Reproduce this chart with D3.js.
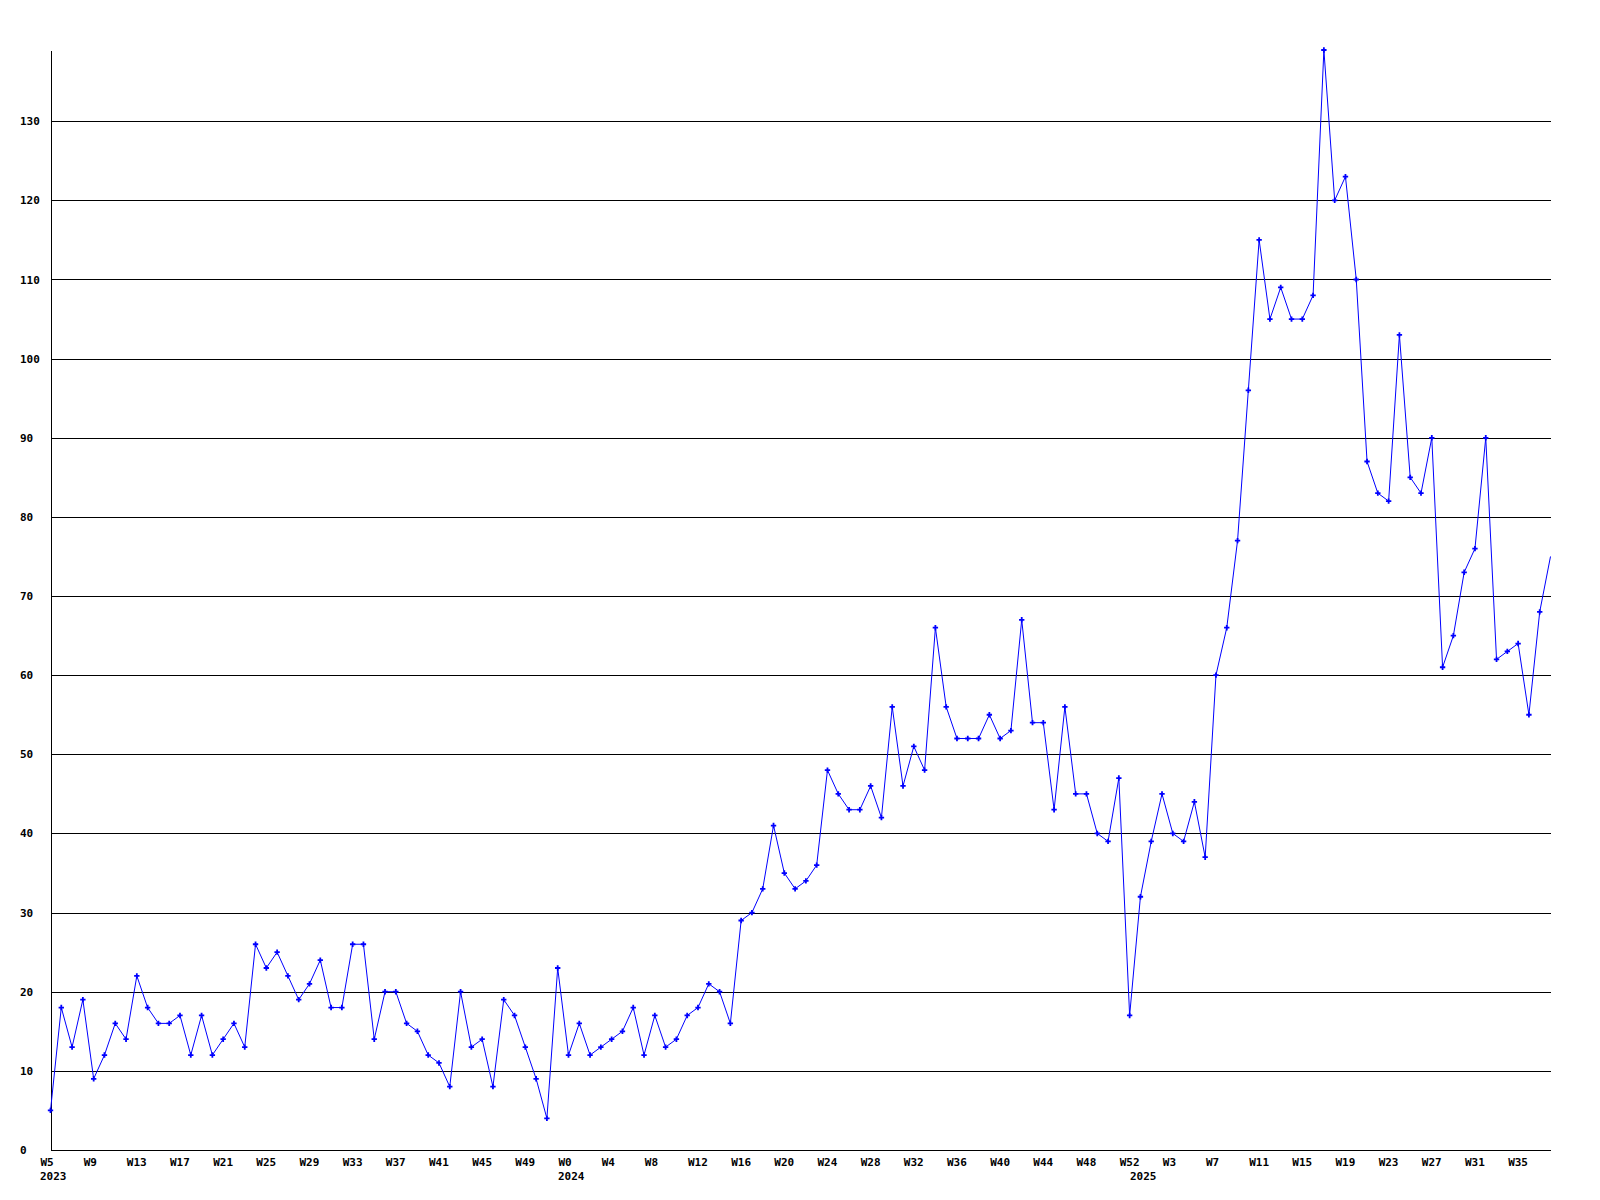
<!DOCTYPE html>
<html>
<head>
<meta charset="utf-8">
<script src="https://cdn.jsdelivr.net/npm/d3@7"></script>
<style>
    body { margin: 0; background: #fff; }
    .axis text, .year { font-family: 'DejaVu Sans Mono', monospace; font-weight: bold; font-size: 11px; fill: #000; }
    .axis path, .axis line { stroke: #000; shape-rendering: crispEdges; }
</style>
</head>
<body>
<svg id="chart"></svg>
<script>
// weekly counts, one array per year
const values2023 = [5, 18, 13, 19, 9, 12, 16, 14, 22, 18, 16, 16, 17, 12, 17, 12, 14, 16, 13, 26, 23, 25, 22, 19,
    21, 24, 18, 18, 26, 26, 14, 20, 20, 16, 15, 12, 11, 8, 20, 13, 14, 8, 19, 17, 13, 9, 4, 23];
const values2024 = [12, 16, 12, 13, 14, 15, 18, 12, 17, 13, 14, 17, 18, 21, 20, 16, 29, 30, 33, 41, 35, 33, 34, 36,
    48, 45, 43, 43, 46, 42, 56, 46, 51, 48, 66, 56, 52, 52, 52, 55, 52, 53, 67, 54, 54, 43, 56, 45,
    45, 40, 39, 47, 17];
const values2025 = [32, 39, 45, 40, 39, 44, 37, 60, 66, 77, 96, 115, 105, 109, 105, 105, 108, 139, 120, 123, 110, 87, 83,
    82, 103, 85, 83, 90, 61, 65, 73, 76, 90, 62, 63, 64, 55, 68, 75];

// x labels, one every 4th week
const weekTicks = ['W5', 'W9', 'W13', 'W17', 'W21', 'W25', 'W29', 'W33', 'W37', 'W41', 'W45', 'W49',
    'W0', 'W4', 'W8', 'W12', 'W16', 'W20', 'W24', 'W28', 'W32', 'W36', 'W40', 'W44', 'W48', 'W52',
    'W3', 'W7', 'W11', 'W15', 'W19', 'W23', 'W27', 'W31', 'W35'];
const years = ['2023', '2024', '2025'];
const yTicks = [0, 10, 20, 30, 40, 50, 60, 70, 80, 90, 100, 110, 120, 130];

const data = values2023.concat(values2024, values2025);
const yearStart = [0, values2023.length, values2023.length + values2024.length];

const width = 1600;
const height = 1200;
const margin = { top: 50, right: 50, bottom: 50, left: 50 };

const xScale = d3.scaleLinear()
    .domain([0, data.length - 1])
    .range([margin.left + 0.5, width - margin.right + 0.5]);
const yScale = d3.scaleLinear()
    .domain([0, d3.max(data)])
    .range([height - margin.bottom, margin.top]);

const svg = d3.select('#chart')
    .attr('width', width)
    .attr('height', height);

const tickIdx = weekTicks.map((d, i) => i * 4);

// y axis + horizontal grid
const yAxis = svg.append('g')
    .attr('class', 'axis y')
    .attr('transform', `translate(${margin.left + 0.5}, 0)`)
    .call(d3.axisLeft(yScale)
        .tickValues(yTicks)
        .tickSize(-(width - margin.left - margin.right))
        .tickSizeOuter(0));
yAxis.attr('font-family', null).attr('font-size', null);
yAxis.selectAll('text')
    .attr('x', 20 - margin.left - 0.5)
    .style('text-anchor', 'start');

// x axis, labels start left of the point
const xAxis = svg.append('g')
    .attr('class', 'axis x')
    .attr('transform', `translate(0, ${height - margin.bottom})`)
    .call(d3.axisBottom(xScale)
        .tickValues(tickIdx)
        .tickFormat((d, i) => weekTicks[i])
        .tickSize(0)
        .tickSizeOuter(0));
xAxis.attr('font-family', null).attr('font-size', null);
xAxis.selectAll('text')
    .attr('x', -10.5)
    .attr('y', 15.5)
    .attr('dy', 0)
    .style('text-anchor', 'start');

svg.append('g')
    .selectAll('.year')
    .data(years)
    .enter()
    .append('text')
    .attr('class', 'year')
    .attr('x', (d, i) => xScale(yearStart[i]) - 10.5)
    .attr('y', height - margin.bottom + 30)
    .text((d) => d);

const line = d3.line()
    .x((d, i) => xScale(i))
    .y((d) => yScale(d));

svg.append('path')
    .datum(data)
    .attr('fill', 'none')
    .attr('stroke', '#0000ff')
    .attr('stroke-width', 1)
    .attr('d', line);

// last week sits on the right edge, no marker there
svg.append('g')
    .attr('class', 'dots')
    .selectAll('path')
    .data(data.slice(0, -1))
    .enter()
    .append('path')
    .attr('d', d3.symbol(d3.symbolCross).size(16))
    .attr('transform', (d, i) => `translate(${xScale(i)}, ${yScale(d)})`)
    .attr('fill', '#0000ff');
</script>
</body>
</html>
